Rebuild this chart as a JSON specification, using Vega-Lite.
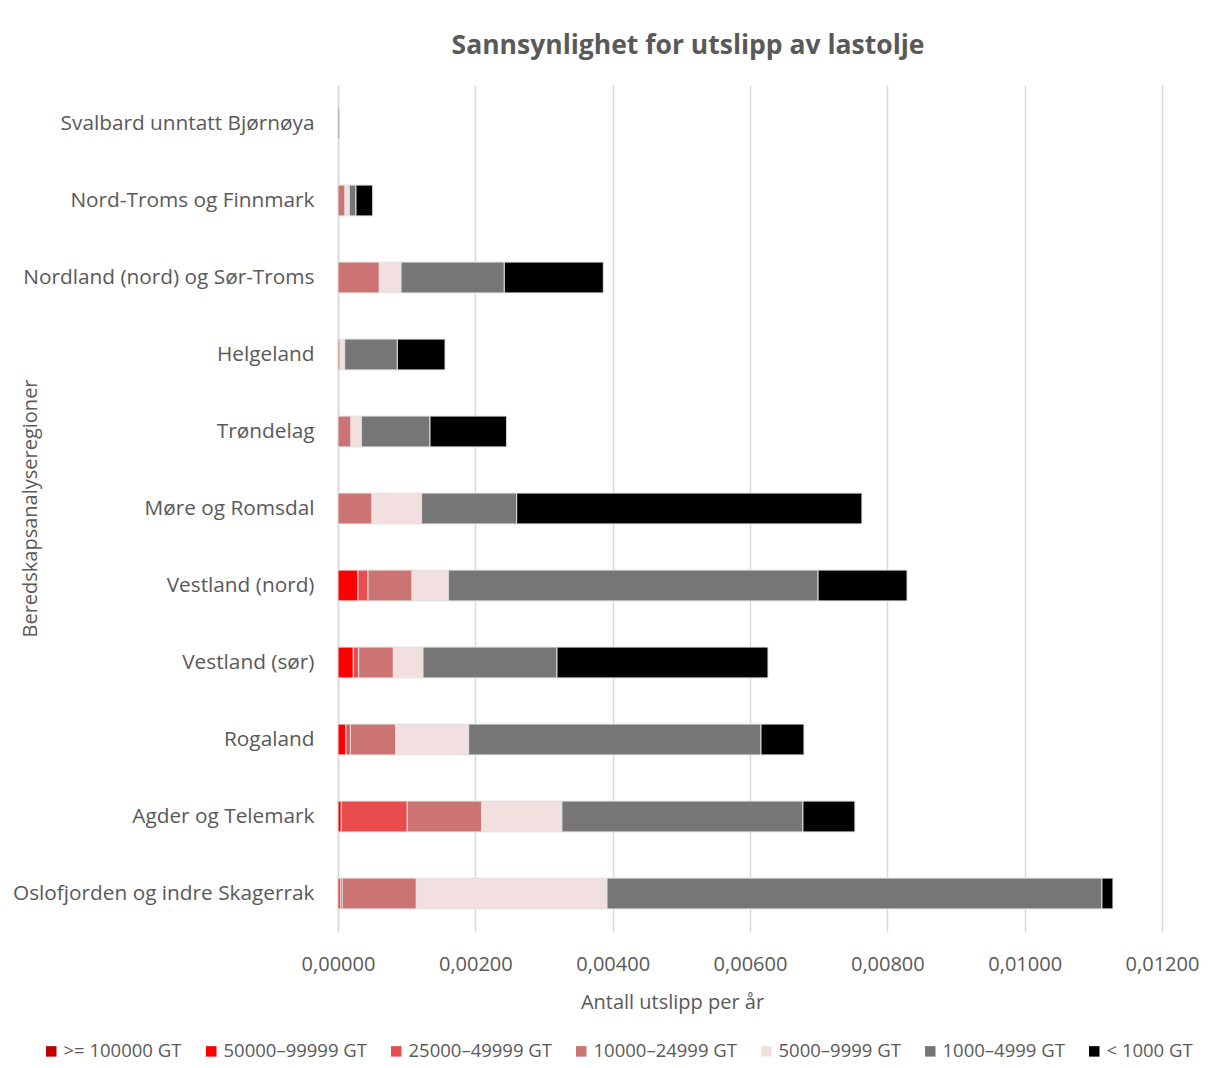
{
  "$schema": "https://vega.github.io/schema/vega-lite/v6.json",
  "width": 824,
  "height": 847,
  "autosize": {"type": "none"},
  "padding": {"left": 338, "top": 85, "right": 53, "bottom": 136},
  "background": "white",
  "title": {"text": "Sannsynlighet for utslipp av lastolje", "font": "Open Sans", "fontSize": 26.5, "fontWeight": "bold", "color": "#595959", "anchor": "middle", "dx": -62, "offset": 26},
  "data": {"values": [
    {"region": "Svalbard unntatt Bjørnøya", "class": "1000–4999 GT", "k": 5, "value": 0.00002},
    {"region": "Nord-Troms og Finnmark", "class": "10000–24999 GT", "k": 3, "value": 0.000102},
    {"region": "Nord-Troms og Finnmark", "class": "5000–9999 GT", "k": 4, "value": 0.000063},
    {"region": "Nord-Troms og Finnmark", "class": "1000–4999 GT", "k": 5, "value": 0.000097},
    {"region": "Nord-Troms og Finnmark", "class": "< 1000 GT", "k": 6, "value": 0.000243},
    {"region": "Nordland (nord) og Sør-Troms", "class": "10000–24999 GT", "k": 3, "value": 0.000602},
    {"region": "Nordland (nord) og Sør-Troms", "class": "5000–9999 GT", "k": 4, "value": 0.000316},
    {"region": "Nordland (nord) og Sør-Troms", "class": "1000–4999 GT", "k": 5, "value": 0.001504},
    {"region": "Nordland (nord) og Sør-Troms", "class": "< 1000 GT", "k": 6, "value": 0.001442},
    {"region": "Helgeland", "class": "10000–24999 GT", "k": 3, "value": 0.00003},
    {"region": "Helgeland", "class": "5000–9999 GT", "k": 4, "value": 0.0000675},
    {"region": "Helgeland", "class": "1000–4999 GT", "k": 5, "value": 0.000767},
    {"region": "Helgeland", "class": "< 1000 GT", "k": 6, "value": 0.000694},
    {"region": "Trøndelag", "class": "10000–24999 GT", "k": 3, "value": 0.000189},
    {"region": "Trøndelag", "class": "5000–9999 GT", "k": 4, "value": 0.000151},
    {"region": "Trøndelag", "class": "1000–4999 GT", "k": 5, "value": 0.001},
    {"region": "Trøndelag", "class": "< 1000 GT", "k": 6, "value": 0.001116},
    {"region": "Møre og Romsdal", "class": "10000–24999 GT", "k": 3, "value": 0.000495},
    {"region": "Møre og Romsdal", "class": "5000–9999 GT", "k": 4, "value": 0.000723},
    {"region": "Møre og Romsdal", "class": "1000–4999 GT", "k": 5, "value": 0.001384},
    {"region": "Møre og Romsdal", "class": "< 1000 GT", "k": 6, "value": 0.005028},
    {"region": "Vestland (nord)", "class": "50000–99999 GT", "k": 1, "value": 0.000291},
    {"region": "Vestland (nord)", "class": "25000–49999 GT", "k": 2, "value": 0.000146},
    {"region": "Vestland (nord)", "class": "10000–24999 GT", "k": 3, "value": 0.000641},
    {"region": "Vestland (nord)", "class": "5000–9999 GT", "k": 4, "value": 0.000529},
    {"region": "Vestland (nord)", "class": "1000–4999 GT", "k": 5, "value": 0.005384},
    {"region": "Vestland (nord)", "class": "< 1000 GT", "k": 6, "value": 0.001296},
    {"region": "Vestland (sør)", "class": "50000–99999 GT", "k": 1, "value": 0.000223},
    {"region": "Vestland (sør)", "class": "25000–49999 GT", "k": 2, "value": 0.000078},
    {"region": "Vestland (sør)", "class": "10000–24999 GT", "k": 3, "value": 0.000505},
    {"region": "Vestland (sør)", "class": "5000–9999 GT", "k": 4, "value": 0.000432},
    {"region": "Vestland (sør)", "class": "1000–4999 GT", "k": 5, "value": 0.001951},
    {"region": "Vestland (sør)", "class": "< 1000 GT", "k": 6, "value": 0.003073},
    {"region": "Rogaland", "class": "50000–99999 GT", "k": 1, "value": 0.000117},
    {"region": "Rogaland", "class": "25000–49999 GT", "k": 2, "value": 0.000063},
    {"region": "Rogaland", "class": "10000–24999 GT", "k": 3, "value": 0.00066},
    {"region": "Rogaland", "class": "5000–9999 GT", "k": 4, "value": 0.001063},
    {"region": "Rogaland", "class": "1000–4999 GT", "k": 5, "value": 0.004257},
    {"region": "Rogaland", "class": "< 1000 GT", "k": 6, "value": 0.000626},
    {"region": "Agder og Telemark", "class": "50000–99999 GT", "k": 1, "value": 0.000048},
    {"region": "Agder og Telemark", "class": "25000–49999 GT", "k": 2, "value": 0.000961},
    {"region": "Agder og Telemark", "class": "10000–24999 GT", "k": 3, "value": 0.001083},
    {"region": "Agder og Telemark", "class": "5000–9999 GT", "k": 4, "value": 0.001169},
    {"region": "Agder og Telemark", "class": "1000–4999 GT", "k": 5, "value": 0.00351},
    {"region": "Agder og Telemark", "class": "< 1000 GT", "k": 6, "value": 0.000757},
    {"region": "Oslofjorden og indre Skagerrak", "class": "50000–99999 GT", "k": 1, "value": 0.0000335},
    {"region": "Oslofjorden og indre Skagerrak", "class": "25000–49999 GT", "k": 2, "value": 0.000029},
    {"region": "Oslofjorden og indre Skagerrak", "class": "10000–24999 GT", "k": 3, "value": 0.001078},
    {"region": "Oslofjorden og indre Skagerrak", "class": "5000–9999 GT", "k": 4, "value": 0.002777},
    {"region": "Oslofjorden og indre Skagerrak", "class": "1000–4999 GT", "k": 5, "value": 0.007208},
    {"region": "Oslofjorden og indre Skagerrak", "class": "< 1000 GT", "k": 6, "value": 0.00016}
  ]},
  "mark": {"type": "bar", "stroke": "#e3e3e3", "strokeWidth": 1},
  "encoding": {
    "y": {
      "field": "region", "type": "nominal",
      "sort": ["Svalbard unntatt Bjørnøya", "Nord-Troms og Finnmark", "Nordland (nord) og Sør-Troms", "Helgeland", "Trøndelag", "Møre og Romsdal", "Vestland (nord)", "Vestland (sør)", "Rogaland", "Agder og Telemark", "Oslofjorden og indre Skagerrak"],
      "scale": {"paddingInner": 0.6, "paddingOuter": 0.3},
      "axis": {
        "domainColor": "#d9d9d9", "domainWidth": 1.5, "ticks": false, "grid": false,
        "labelPadding": 24, "labelFont": "Open Sans", "labelFontSize": 20.8, "labelColor": "#595959", "labelLimit": 0,
        "title": "Beredskapsanalyseregioner", "titleFont": "Open Sans", "titleFontSize": 20, "titleFontWeight": "normal", "titleColor": "#595959",
        "titleX": -308, "titleY": 423, "titleAngle": 270, "titleAlign": "center", "titleBaseline": "middle"
      }
    },
    "x": {
      "field": "value", "type": "quantitative", "stack": "zero",
      "scale": {"domain": [0, 0.012], "nice": false},
      "axis": {
        "values": [0, 0.002, 0.004, 0.006, 0.008, 0.01, 0.012],
        "labelExpr": "replace(format(datum.value, '.5f'), '.', ',')",
        "labelFlush": false, "labelOverlap": false, "labelBound": false,
        "grid": true, "gridColor": "#d9d9d9", "gridWidth": 1.5, "domain": false, "ticks": false,
        "labelPadding": 22, "labelFont": "Open Sans", "labelFontSize": 20, "labelColor": "#595959",
        "title": "Antall utslipp per år", "titleFont": "Open Sans", "titleFontSize": 20, "titleFontWeight": "normal", "titleColor": "#595959",
        "titleX": 334, "titlePadding": 18
      }
    },
    "color": {
      "field": "class", "type": "nominal",
      "scale": {
        "domain": [">= 100000 GT", "50000–99999 GT", "25000–49999 GT", "10000–24999 GT", "5000–9999 GT", "1000–4999 GT", "< 1000 GT"],
        "range": ["#c00000", "#ff0000", "#e84c4c", "#cc7373", "#f2dfdf", "#767676", "#000000"]
      },
      "legend": {
        "title": null, "orient": "none", "legendX": -296, "legendY": 957, "direction": "horizontal", "columns": 7,
        "symbolType": "square", "symbolSize": 110, "symbolStrokeWidth": 0, "labelFont": "Open Sans", "labelFontSize": 18.5, "labelColor": "#595959",
        "labelOffset": 3, "columnPadding": 20
      }
    },
    "order": {"field": "k", "type": "quantitative"}
  },
  "config": {"view": {"stroke": null}}
}
